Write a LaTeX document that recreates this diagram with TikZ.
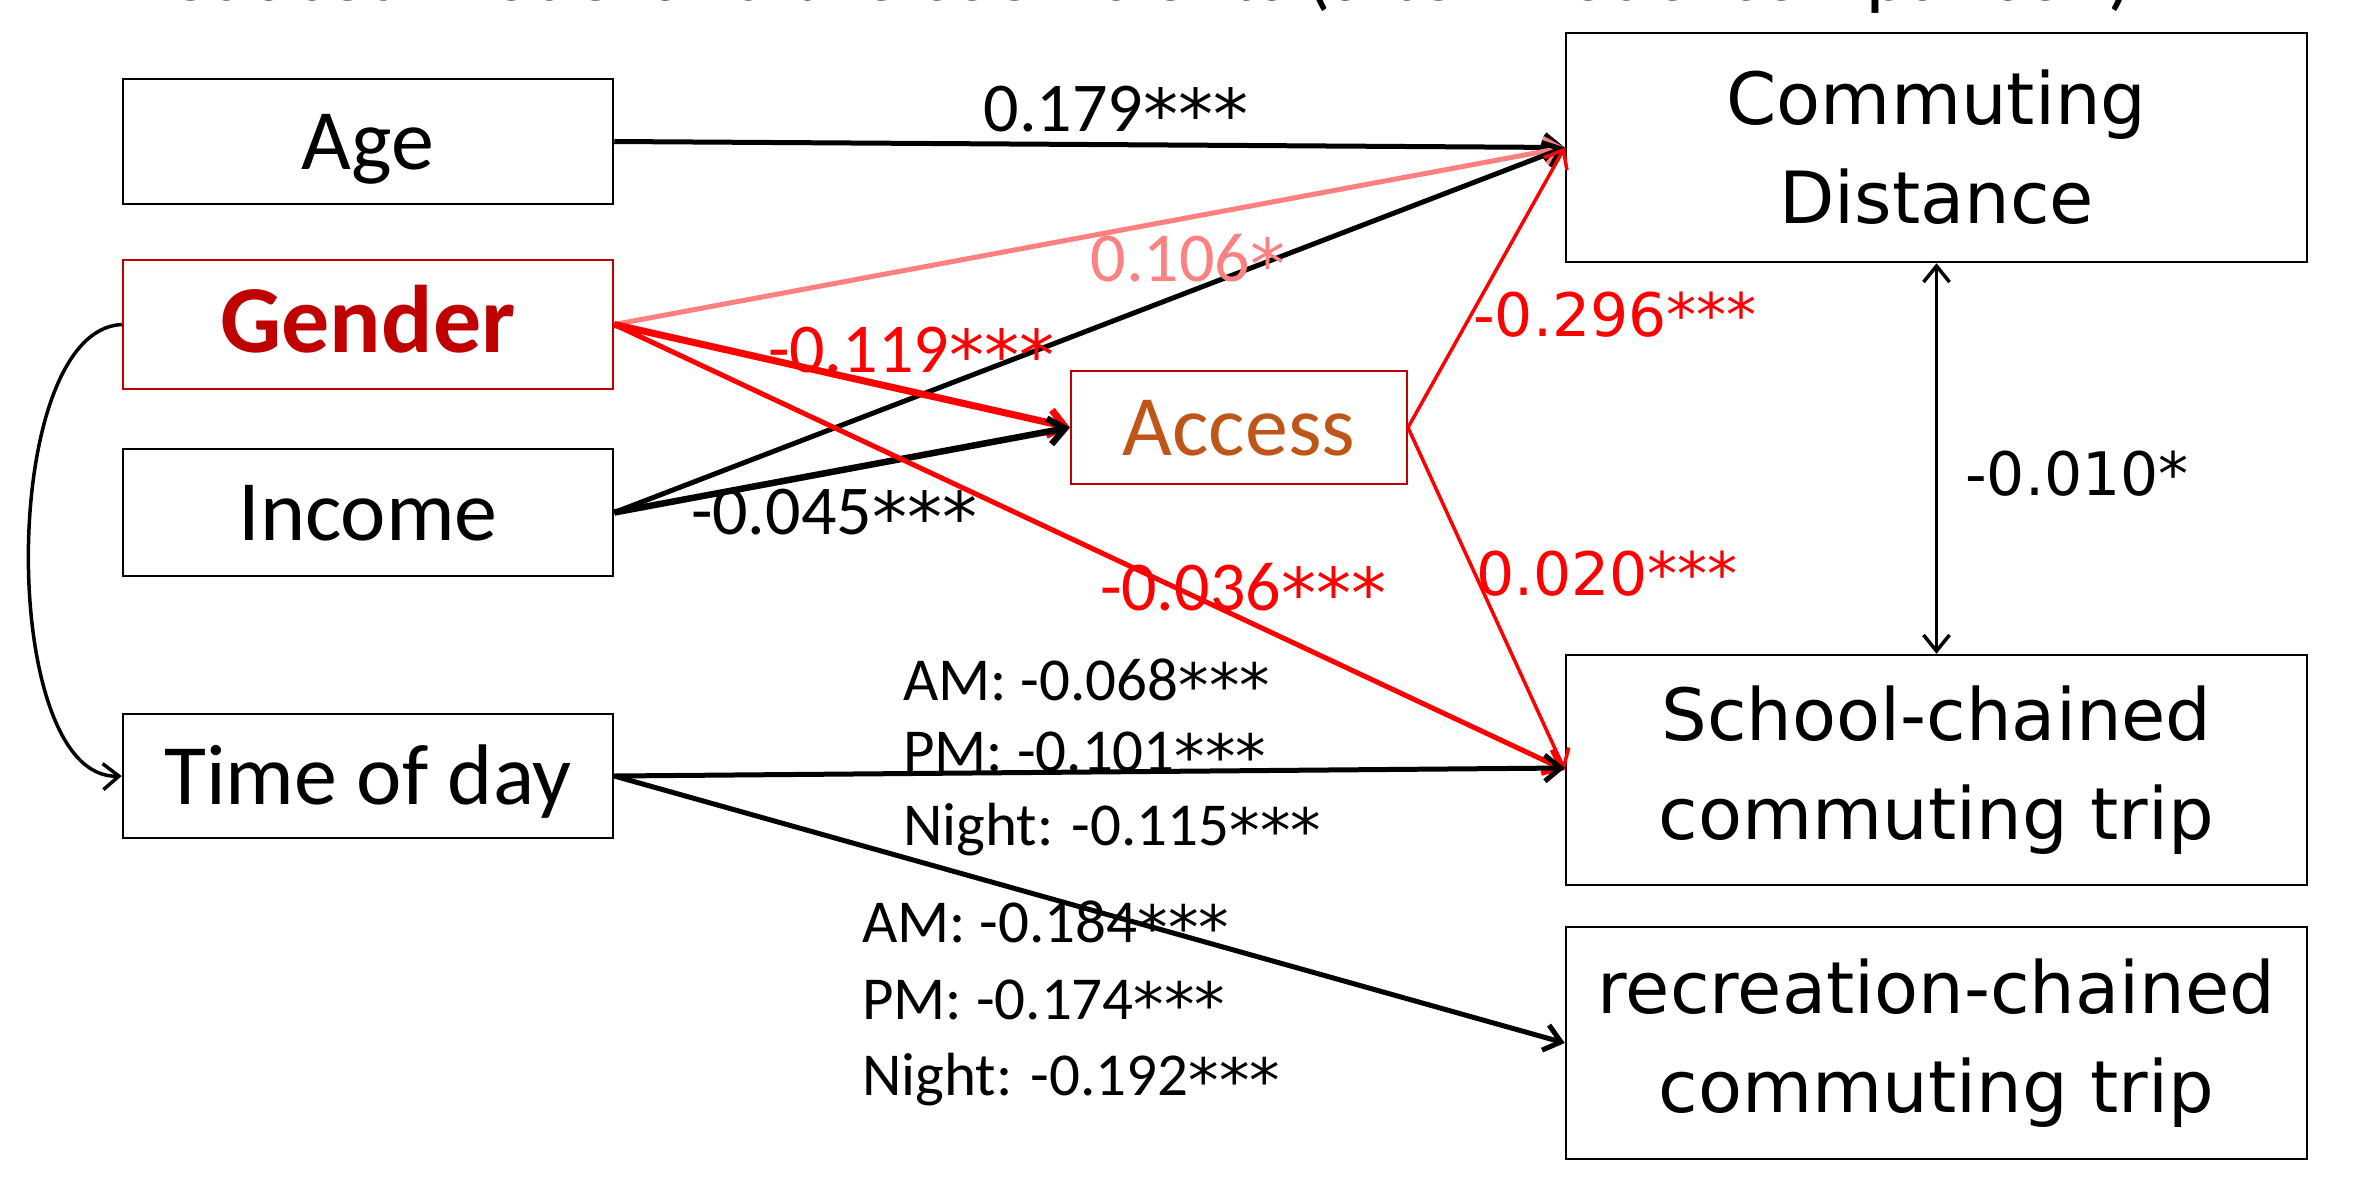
\documentclass[tikz,border=0pt]{standalone}
\usepackage{fontspec}
\setmainfont{Carlito}
\newfontfamily\dv{DejaVu Sans}
\usetikzlibrary{arrows.meta}
\definecolor{genred}{RGB}{192,0,0}
\definecolor{pinkc}{RGB}{255,128,128}
\definecolor{accbrown}{RGB}{190,85,25}
\definecolor{brightred}{RGB}{255,0,0}
\newcommand\onestar{\raisebox{-0.12em}{\dv *}}
\newcommand\threestars{\onestar\onestar\onestar}
\begin{document}
\begin{tikzpicture}[x=1pt,y=-1pt,
  box/.style={draw=black,line width=2.5pt,minimum width=490pt,inner sep=0pt,text height=62pt,text depth=6pt,font=\fontsize{86}{100}\selectfont},
  outbox/.style={draw=black,line width=2.5pt,minimum width=741pt,inner sep=0pt,align=center,font=\dv\fontsize{72}{99}\selectfont},
  arr/.style={-{Straight Barb[length=16pt,width=26pt]}},
  coef/.style={font=\fontsize{70}{80}\selectfont,anchor=base,inner sep=0pt},
  coefdv/.style={font=\dv\fontsize{60}{70}\selectfont,anchor=base,inner sep=0pt},
  todl/.style={font=\fontsize{61}{75}\selectfont,anchor=base west,inner sep=0pt},
]
\useasboundingbox (0,0) rectangle (2372,1203);
\node[anchor=base west,inner sep=0pt,font=\fontsize{80}{90}\selectfont] (title) at (127,0.5) {Reduced model and the coefficients (after model comparison)};

\node[box,minimum height=125pt] (age) at (368,141.5) {Age};
\node[box,minimum height=129pt,draw=genred,text=genred,font=\bfseries\fontsize{96}{110}\selectfont] (gender) at (368,324.5) {Gender};
\node[box,minimum height=127pt] (income) at (368,512.5) {Income};
\node[box,minimum height=124pt] (tod) at (368,776) {Time of day};
\node[box,minimum width=336pt,minimum height=113pt,draw=genred,line width=2pt,text=accbrown] (access) at (1239,427.5) {Access};
\node[outbox,minimum height=229pt] (cd) at (1936.5,147.5) {Commuting\\Distance};
\node[outbox,minimum height=230pt] (school) at (1936.5,770) {\raisebox{-4pt}{School-chained}\\\raisebox{-4pt}{commuting trip}};
\node[outbox,minimum height=232pt] (rec) at (1936.5,1043) {recreation-chained\\commuting trip};

% connectors
\draw[arr,line width=5pt] (age.east) -- (cd.west);
\draw[arr,line width=5pt,pinkc] (gender.east) -- (cd.west);
\draw[arr,line width=5pt] (income.east) -- (cd.west);
\draw[arr,line width=7pt,brightred] (gender.east) -- (access.west);
\draw[arr,line width=6.5pt] (income.east) -- (access.west);
\draw[arr,line width=5pt,brightred] (gender.east) -- (school.west);
\draw[arr,line width=3.5pt,brightred] (access.east) -- (cd.west);
\draw[arr,line width=3.5pt,brightred] (access.east) -- (school.west);
\draw[arr,line width=5pt] (tod.east) -- ([yshift=2pt]school.west);
\draw[arr,line width=5pt] (tod.east) -- (rec.west);
\draw[{Straight Barb[length=16pt,width=26pt]}-{Straight Barb[length=16pt,width=26pt]},line width=3.5pt] (cd.south) -- (school.north);
\draw[arr,line width=3.5pt] (gender.west) .. controls (-2,330) and (-2,780) .. (tod.west);

% labels
\node[coef] (l179) at (1116,131) {0.179\threestars};
\node[coef,text=pinkc] (l106) at (1188,281) {0.106\onestar};
\node[coef,text=brightred] (l119) at (911,372) {-0.119\threestars};
\node[coef] (l045) at (834,534) {-0.045\threestars};
\node[coef,text=brightred] (l036) at (1243,610) {-0.036\threestars};
\node[coefdv,text=brightred] (l296) at (1615,336) {-0.296***};
\node[coefdv,text=brightred] (l020) at (1607,595) {0.020***};
\node[coefdv] (l010) at (2077,495) {-0.010*};

\node[todl] (a1) at (903,700) {AM: -0.068\threestars};
\node[todl] (p1) at (903,771) {PM: -0.101\threestars};
\node[todl] (n1) at (903,845) {Night: -0.115\threestars};
\node[todl] (a2) at (862,942) {AM: -0.184\threestars};
\node[todl] (p2) at (862,1019) {PM: -0.174\threestars};
\node[todl] (n2) at (862,1095) {Night: -0.192\threestars};
\end{tikzpicture}
\end{document}
